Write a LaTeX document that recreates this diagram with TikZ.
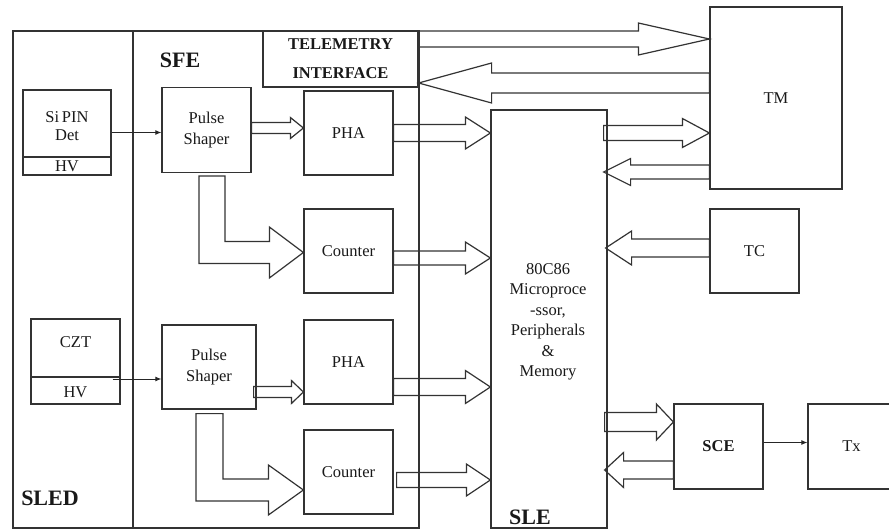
\documentclass[tikz,border=0pt]{standalone}
\usepackage{fontspec}
\setmainfont{Liberation Serif}
\usetikzlibrary{calc,arrows.meta}
\tikzset{
  ln/.style={draw=black!80, line width=1.2pt},
  box/.style={ln, rectangle, inner sep=0pt},
  txt/.style={text=black!90, font=\fontsize{16.5}{20.5}\selectfont, align=center, inner sep=0pt},
  bld/.style={text=black!90, font=\bfseries\fontsize{22}{26}\selectfont, inner sep=0pt},
  bsm/.style={text=black!90, font=\bfseries\fontsize{16.5}{29}\selectfont, align=center, inner sep=0pt},
  blockarr/.style={ln, line join=miter},
  thinarr/.style={draw=black!85, line width=1pt, -{Latex[length=6pt,width=5pt]}},
}
% straight block arrow: tail, tip, shaft half width, head half width, head length (signed, + = rightward)
\newcommand\barrow[5]{\draw[blockarr] let \p1=(#1), \p2=(#2), \n1={\x2-(#5)*1pt} in
  (\x1,\y2+#3pt) -- (\n1,\y2+#3pt) -- (\n1,\y2+#4pt) -- (\x2,\y2) -- (\n1,\y2-#4pt) -- (\n1,\y2-#3pt) -- (\x1,\y2-#3pt) -- cycle;}
% bent block arrow: start (top), tip, left offset, right offset, shaft half, head half, head length
\newcommand\bentarrow[7]{\draw[blockarr] let \p1=(#1), \p2=(#2), \n1={\x1+(#3)*1pt}, \n2={\x1+(#4)*1pt}, \n3={\x2-(#7)*1pt} in
  (\n1,\y1) -- (\n2,\y1) -- (\n2,\y2+#5pt) -- (\n3,\y2+#5pt) -- (\n3,\y2+#6pt) -- (\x2,\y2) -- (\n3,\y2-#6pt) -- (\n3,\y2-#5pt) -- (\n1,\y2-#5pt) -- cycle;}
\begin{document}
\begin{tikzpicture}[x=1pt,y=-1pt]
\useasboundingbox (0,0) rectangle (889,529);
\fill[white] (0,0) rectangle (889,529);
\clip (0,0) rectangle (889,529);

% regions
\node[box, minimum width=120pt, minimum height=497pt] (sled) at (73,279.5) {};
\node[box, minimum width=286pt, minimum height=497pt] (sfe) at (276,279.5) {};
\node[bld] (sledl) at (50,498) {SLED};
\node[bld] (sfel) at (180,60) {SFE};

% telemetry interface
\node[box, bsm, minimum width=155pt, minimum height=56pt] (tel) at (340.5,59) {TELEMETRY\\INTERFACE};

% detectors
\node[box, minimum width=88pt, minimum height=85pt] (sipin) at (67,132.5) {};
\draw[ln] (sipin.west |- 0,157) -- (sipin.east |- 0,157);
\node[txt] (sipint) at (67,126) {Si\,PIN\\[-2.5pt]Det};
\node[txt] (sipinhv) at (67,166.5) {HV};

\node[box, minimum width=89pt, minimum height=85pt] (czt) at (75.5,361.5) {};
\draw[ln] (czt.west |- 0,377) -- (czt.east |- 0,377);
\node[txt] (cztt) at (75.5,342) {CZT};
\node[txt] (czthv) at (75.5,392) {HV};

% SFE blocks
\node[box, txt, minimum width=89pt, minimum height=85pt] (ps1) at (206.5,130) {Pulse\\Shaper};
\node[box, txt, minimum width=89pt, minimum height=84pt] (pha1) at (348.5,133) {PHA};
\node[box, txt, minimum width=89pt, minimum height=84pt] (cnt1) at (348.5,251) {Counter};
\node[box, txt, minimum width=94pt, minimum height=84pt] (ps2) at (209,367) {Pulse\\Shaper};
\node[box, txt, minimum width=89pt, minimum height=84pt] (pha2) at (348.5,362) {PHA};
\node[box, txt, minimum width=89pt, minimum height=84pt] (cnt2) at (348.5,472) {Counter};

% SLE
\node[box, minimum width=116pt, minimum height=418pt] (sle) at (549,319) {};
\node[txt] (slet) at (548,322) {80C86\\Microproce\\-ssor,\\Peripherals\\\&\\Memory};
\node[bld] (slel) at (530,517) {SLE};

% right side
\node[box, txt, minimum width=132pt, minimum height=182pt] (tm) at (776,98) {TM};
\node[box, txt, minimum width=89pt, minimum height=84pt] (tc) at (754.5,251) {TC};
\node[box, txt, font=\bfseries\fontsize{16.5}{20.5}\selectfont, minimum width=89pt, minimum height=85pt] (sce) at (718.5,446.5) {SCE};
\node[box, txt, minimum width=87pt, minimum height=85pt] (tx) at (851.5,446.5) {Tx};

% thin arrows
\draw[thinarr] (sipin.east) -- (sipin.east -| ps1.west);
\coordinate (cztout) at ([xshift=-8pt,yshift=-17.5pt]czt.east);
\draw[thinarr] (cztout) -- (cztout -| ps2.west);
\draw[thinarr] ([yshift=4pt]sce.east) -- ([yshift=4pt]tx.west);

% block arrows
\barrow{tel.east}{[yshift=59pt]tm.west}{8}{16}{71}
\barrow{tm.west}{[yshift=-24pt]tel.east}{10}{20}{-73}
\barrow{ps1.east}{[yshift=5pt]pha1.west}{5.5}{10.5}{13}
\barrow{pha1.east}{[yshift=186pt]sle.west}{8.5}{16}{25}
\barrow{cnt1.east}{[yshift=61pt]sle.west}{7}{16}{25}
\barrow{[xshift=-3pt]ps2.east}{[yshift=-30pt]pha2.west}{5.5}{11.5}{12}
\barrow{pha2.east}{[yshift=-68pt]sle.west}{8.5}{16.5}{25}
\barrow{[xshift=3pt]cnt2.east}{[yshift=-161pt]sle.west}{7.5}{16}{24}
\barrow{[xshift=-4pt]sle.east}{[yshift=-35pt]tm.west}{7.5}{14.5}{27}
\barrow{tm.west}{[xshift=-4pt,yshift=147pt]sle.east}{7}{13.5}{-27}
\barrow{tc.west}{[xshift=-2pt,yshift=71pt]sle.east}{9}{17}{-26}
\barrow{[xshift=-3pt]sle.east}{[yshift=24.5pt]sce.west}{9.5}{18}{17}
\barrow{sce.west}{[xshift=-3pt,yshift=-151pt]sle.east}{9}{17.5}{-19}

\bentarrow{[yshift=-3pt]ps1.south}{[yshift=-1.5pt]cnt1.west}{-7.5}{18.5}{11}{25.5}{34}
\bentarrow{[yshift=-4pt]ps2.south}{[yshift=-18pt]cnt2.west}{-13}{14}{11}{25}{35}
\end{tikzpicture}
\end{document}
